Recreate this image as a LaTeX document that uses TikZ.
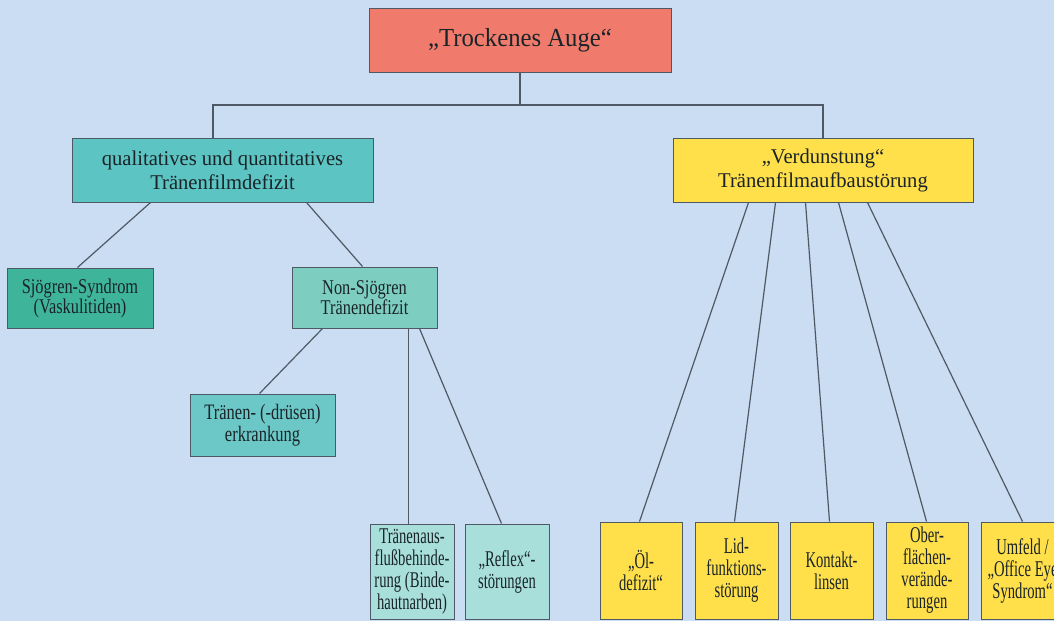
\documentclass[tikz,border=0pt]{standalone}
\usepackage{fontspec}
\setmainfont{Liberation Serif}
\newfontfamily\fTop[FakeStretch=0.95]{Liberation Serif}
\newfontfamily\fMid[FakeStretch=0.98]{Liberation Serif}
\newfontfamily\fA[FakeStretch=0.78]{Liberation Serif}
\newfontfamily\fAA[FakeStretch=0.75]{Liberation Serif}
\newfontfamily\fB[FakeStretch=0.65]{Liberation Serif}
\definecolor{bg}{HTML}{CADDF2}
\definecolor{cred}{HTML}{F07A6C}
\definecolor{cqual}{HTML}{5CC4C2}
\definecolor{csjo}{HTML}{3EB49B}
\definecolor{cnons}{HTML}{7DCEC1}
\definecolor{ctrd}{HTML}{6CC8C7}
\definecolor{clight}{HTML}{A8DFDB}
\definecolor{cyel}{HTML}{FFDF4A}
\definecolor{cline}{HTML}{4F5966}
\definecolor{ctext}{HTML}{1A2428}
\tikzset{
  box/.style={draw=cline, line width=1pt, inner sep=0pt, align=center, text=ctext},
  topbox/.style={box, fill=cred, font=\fTop\fontsize{26}{30}\selectfont},
  midbox/.style={box, font=\fMid\fontsize{21}{24}\selectfont},
  lvlbox/.style={box, font=\fA\fontsize{21}{20}\selectfont},
  botbox/.style={box, font=\fB\fontsize{22.5}{22}\selectfont},
  conn/.style={draw=cline, line width=1.2pt}
}
\begin{document}
\begin{tikzpicture}[x=1pt,y=-1pt]
\path[use as bounding box, fill=bg] (0,0) rectangle (1054,621);
\clip (0,0) rectangle (1054,621);
% boxes
\node[topbox, minimum width=302pt, minimum height=64pt] (top) at (520,40) {„Trockenes Auge“};
\node[midbox, fill=cqual, minimum width=301pt, minimum height=64pt] (qual) at (222.5,170) {qualitatives und quantitatives\\Tränenfilmdefizit};
\node[midbox, fill=cyel, minimum width=300pt, minimum height=64pt] (verd) at (823,170) {„Verdunstung“\\Tränenfilmaufbaustörung};
\node[lvlbox, fill=csjo, minimum width=146pt, minimum height=60pt] (sjo) at (80,298) {Sjögren-Syndrom\\(Vaskulitiden)};
\node[lvlbox, fill=cnons, minimum width=145pt, minimum height=61pt] (nons) at (364.5,297.5) {Non-Sjögren\\Tränendefizit};
\node[lvlbox, fill=ctrd, minimum width=145pt, minimum height=62pt, font=\fAA\fontsize{22}{22}\selectfont] (trd) at (262.5,425) {Tränen- (-drüsen)\\erkrankung};
\node[botbox, fill=clight, minimum width=84pt, minimum height=95pt] (aus) at (412,571.5) {Tränenaus-\\flußbehinde-\\rung (Binde-\\hautnarben)};
\node[botbox, fill=clight, minimum width=84pt, minimum height=95pt] (refl) at (507,571.5) {„Reflex“-\\störungen};
\node[botbox, fill=cyel, minimum width=82pt, minimum height=97pt] (oel) at (641,570.5) {„Öl-\\defizit“};
\node[botbox, fill=cyel, minimum width=83pt, minimum height=97pt] (lid) at (736.5,570.5) {Lid-\\funktions-\\störung};
\node[botbox, fill=cyel, minimum width=83pt, minimum height=97pt] (kon) at (831.5,570.5) {Kontakt-\\linsen};
\node[botbox, fill=cyel, minimum width=82pt, minimum height=97pt] (ober) at (927,570.5) {Ober-\\flächen-\\verände-\\rungen};
\node[botbox, fill=cyel, minimum width=83pt, minimum height=97pt] (umf) at (1022.5,570.5) {Umfeld /\\„Office Eye\\Syndrom“};
% connectors
\coordinate (bar) at (520,105);
\draw[conn] (top.south) -- (bar);
\draw[conn] ([xshift=-9.5pt]qual.north) |- (verd.north |- bar) -- (verd.north);
\draw[conn] ([xshift=79pt]qual.south west) -- ([xshift=71pt]sjo.north west);
\draw[conn] ([xshift=235pt]qual.south west) -- ([xshift=71pt]nons.north west);
\draw[conn] ([xshift=31pt]nons.south west) -- ([xshift=70pt]trd.north west);
\coordinate (nsa) at ([xshift=117pt]nons.south west);
\draw[conn] (nsa) -- (nsa |- aus.north);
\draw[conn] ([xshift=128pt]nons.south west) -- ([xshift=37pt]refl.north west);
\draw[conn] ([xshift=76pt]verd.south west) -- ([xshift=40pt]oel.north west);
\draw[conn] ([xshift=103pt]verd.south west) -- ([xshift=40pt]lid.north west);
\draw[conn] ([xshift=133pt]verd.south west) -- ([xshift=40pt]kon.north west);
\draw[conn] ([xshift=166pt]verd.south west) -- ([xshift=41pt]ober.north west);
\draw[conn] ([xshift=195pt]verd.south west) -- ([xshift=42pt]umf.north west);
\end{tikzpicture}
\end{document}
